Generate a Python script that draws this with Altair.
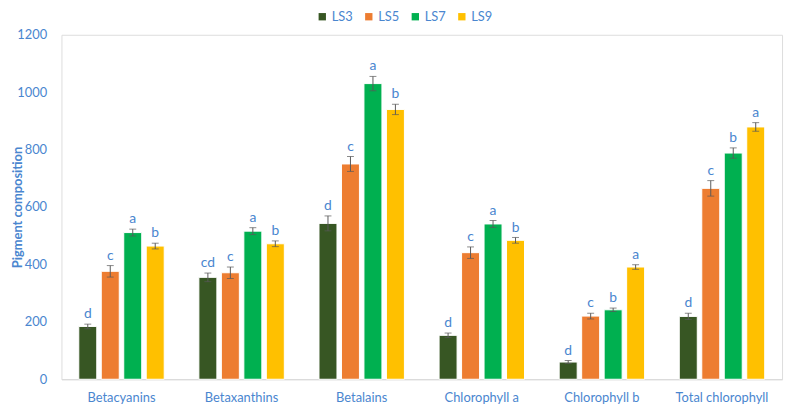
import altair as alt
import pandas as pd

categories = ["Betacyanins", "Betaxanthins", "Betalains", "Chlorophyll a", "Chlorophyll b", "Total chlorophyll"]
series = ["LS3", "LS5", "LS7", "LS9"]
colors = ["#375623", "#ED7D31", "#00B050", "#FFC000"]

values = {
    "LS3": [184, 355, 543, 153, 60, 219],
    "LS5": [376, 371, 750, 441, 220, 665],
    "LS7": [511, 516, 1030, 541, 242, 788],
    "LS9": [464, 472, 940, 484, 391, 879],
}
errors = {
    "LS3": [8, 15, 26, 8, 5, 11],
    "LS5": [20, 20, 26, 20, 10, 27],
    "LS7": [12, 12, 25, 12, 6, 18],
    "LS9": [10, 10, 18, 10, 8, 15],
}
letters = {
    "LS3": ["d", "cd", "d", "d", "d", "d"],
    "LS5": ["c", "c", "c", "c", "c", "c"],
    "LS7": ["a", "a", "a", "a", "b", "b"],
    "LS9": ["b", "b", "b", "b", "a", "a"],
}

rows = []
for s in series:
    for i, c in enumerate(categories):
        v = values[s][i]
        e = errors[s][i]
        rows.append({"cat": c, "series": s, "value": v, "lo": v - e, "hi": v + e, "letter": letters[s][i]})
df = pd.DataFrame(rows)

blue = "#4A86CF"
font = "Lato"

x = alt.X("cat:N", sort=categories, title=None,
          scale=alt.Scale(paddingInner=0.27, paddingOuter=0.135),
          axis=alt.Axis(labelAngle=0, labelColor=blue, labelFontSize=13, labelFont=font,
                        domainColor="#D9D9D9", ticks=False, labelPadding=12))
xo = alt.XOffset("series:N", sort=series, scale=alt.Scale(paddingInner=0.2, paddingOuter=0.05))

base = alt.Chart(df)

bars = base.mark_bar(stroke="white", strokeWidth=1).encode(
    x=x, xOffset=xo,
    y=alt.Y("value:Q", title="Pigment composition",
            scale=alt.Scale(domain=[0, 1200]),
            axis=alt.Axis(values=[0, 200, 400, 600, 800, 1000, 1200], format="d", grid=False,
                          domain=False, ticks=False,
                          labelColor=blue, labelFontSize=13, labelFont=font, labelPadding=15,
                          titleColor=blue, titleFontSize=13, titleFont=font, titleFontWeight="bold",
                          titleX=-44, titleBaseline="middle")),
    color=alt.Color("series:N", sort=series, scale=alt.Scale(domain=series, range=colors),
                    legend=alt.Legend(title=None, orient="none", direction="horizontal",
                                      legendX=257, legendY=-25, symbolType="square", symbolSize=55,
                                      symbolStrokeWidth=0, labelColor=blue, labelFontSize=13,
                                      labelFont=font, columnPadding=9, labelOffset=3)),
)

rule = base.mark_rule(color="#595959", strokeWidth=1).encode(
    x=x, xOffset=xo, y="lo:Q", y2="hi:Q")
cap_hi = base.mark_tick(color="#595959", size=7, thickness=1, orient="horizontal").encode(
    x=x, xOffset=xo, y="hi:Q")
cap_lo = base.mark_tick(color="#595959", size=7, thickness=1, orient="horizontal").encode(
    x=x, xOffset=xo, y="lo:Q")
text = base.mark_text(color=blue, fontSize=14, font=font, baseline="bottom", dy=-3).encode(
    x=x, xOffset=xo, y="hi:Q", text="letter:N")

chart = alt.layer(bars, rule, cap_hi, cap_lo, text).properties(
    width=728, height=348,
    autosize=alt.AutoSizeParams(type="none"),
    padding={"left": 54, "top": 25, "right": 5, "bottom": 30},
).configure_view(stroke=None).configure(font=font)

chart.save("out.html", embed_options={"renderer": "svg", "actions": False})
